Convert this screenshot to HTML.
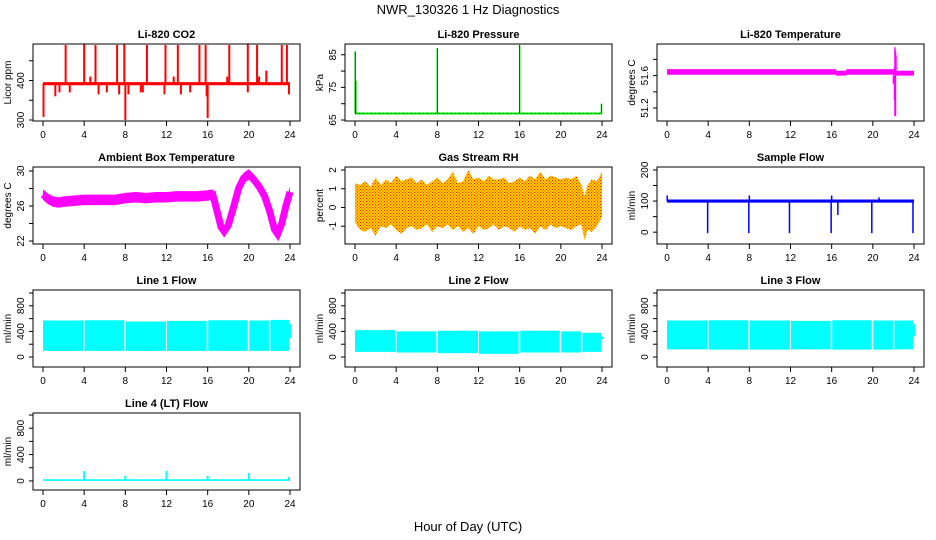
<!DOCTYPE html>
<html><head><meta charset="utf-8"><style>
html,body{margin:0;padding:0;background:#fff;}
svg{display:block;font-family:"Liberation Sans",sans-serif;}
</style></head><body>
<svg id="c" width="936" height="540" viewBox="0 0 936 540" xmlns="http://www.w3.org/2000/svg">
<defs>
<pattern id="rhpat" width="3" height="3" patternUnits="userSpaceOnUse">
<rect width="3" height="3" fill="#ffd000"/><rect x="0" y="0" width="1" height="1" fill="#ff2000"/><rect x="1.5" y="1.5" width="1" height="1" fill="#ff2000"/>
</pattern>
</defs>
<text x="468" y="14" text-anchor="middle" font-size="13">NWR_130326  1 Hz Diagnostics</text>
<text x="468" y="531" text-anchor="middle" font-size="13">Hour of Day (UTC)</text>
</svg>
<script>
// ---- data ----
const xTicks = [0,4,8,12,16,20,24];
// CO2
const co2Base = 392;
const co2SpikeHours = [2.2,4.0,5.1,7.2,7.9,10.1,11.9,13.1,15.2,15.8,18.1,19.9,20.8,23.2,23.7,0.05,8.0,16.0,1.6,2.6,4.6,6.2,7.4,8.3,9.7,11.8,12.7,14.3,15.9,17.9,19.9,21.0,21.7,23.9,1.2,5.4,9.5,13.4];
const co2SpikeVals = [490,492,490,490,492,490,490,490,490,490,490,493,490,490,490,308,300,305,370,370,410,370,365,365,370,365,410,370,360,410,370,410,425,365,360,365,370,365];
// Pressure
const presBase = 67;
const presSpikeHours = [0.02,0.08,8.0,16.0,23.95];
const presSpikeVals = [86,77,87,88,70];
// Li-820 temperature
const tempHours = [0,16.4,16.45,17.4,17.45,21.9,22.3,24];
const tempLow = [51.61,51.61,51.60,51.60,51.61,51.61,51.60,51.60];
const tempHigh = [51.68,51.68,51.66,51.66,51.68,51.68,51.66,51.66];
const tempSpikeHours = [22.0,22.1,22.15,22.2,22.25];
const tempSpikeLo = [51.5,51.3,51.1,51.1,51.6];
const tempSpikeHi = [51.6,51.7,51.95,51.9,51.85];
// Ambient box temperature
const ambHours = [0,0.5,1,1.5,2,3,4,5,6,7,8,9,10,11,12,13,14,15,16,16.5,17,17.3,17.6,18,18.5,19,19.5,20,20.5,21,21.5,22,22.5,22.8,23.2,23.6,24];
const ambCenter = [27.3,26.8,26.5,26.4,26.5,26.6,26.7,26.7,26.7,26.7,26.9,27.0,26.9,27.0,27.0,27.1,27.1,27.1,27.2,27.3,25.0,23.6,23.1,23.8,25.8,28.0,29.2,29.6,29.0,28.2,27.2,25.5,23.3,22.8,24.0,26.0,27.6];
const ambHalf = 0.6;
// Gas stream RH
const rhHours = [0,0.5,1,1.5,2,2.5,3,3.5,4,4.5,5,5.5,6,6.5,7,7.5,8,8.5,9,9.5,10,10.5,11,11.5,12,12.5,13,13.5,14,14.5,15,15.5,16,16.5,17,17.5,18,18.5,19,19.5,20,20.5,21,21.5,22,22.3,22.6,23,23.5,24];
const rhUpper = [1.3,1.2,1.4,1.1,1.6,1.2,1.5,1.3,1.7,1.4,1.5,1.6,1.3,1.5,1.2,1.4,1.6,1.3,1.5,1.9,1.3,1.4,2.0,1.5,1.6,1.4,1.7,1.5,1.5,1.6,1.3,1.4,1.6,1.4,1.7,1.5,1.9,1.5,1.7,1.6,1.5,1.6,1.5,1.7,1.2,0.6,1.2,1.5,1.4,1.9];
const rhLower = [-0.8,-1.2,-1.3,-1.1,-1.5,-1.0,-1.1,-0.9,-1.2,-1.4,-1.1,-1.0,-1.2,-1.1,-0.9,-1.3,-1.0,-1.1,-0.9,-1.2,-1.0,-1.3,-1.1,-1.4,-1.0,-1.2,-1.1,-0.9,-1.2,-1.0,-1.1,-1.3,-1.0,-1.2,-1.1,-1.4,-1.0,-1.2,-0.9,-1.1,-1.0,-1.1,-1.2,-1.0,-0.9,-1.75,-1.2,-1.3,-1.0,-0.5];
// Sample flow
const sfBase = 100;
const sfDropHours = [3.95,7.95,11.9,15.95,19.9,23.9];
const sfDropVals = [-3,-3,-3,-3,-3,-3];
const sfSpikeHours = [0.02,8.0,16.0,16.6,20.6];
const sfSpikeVals = [118,118,118,55,112];
// Line flows (segments)
const flowStarts = [0,4.05,8.05,12.05,16.05,20.05,22.1];
const flowEnds = [3.95,7.9,11.95,15.9,19.9,21.95,23.9];
const l1High = [570,575,555,565,575,570,580];
const l1Low = [95,95,95,95,95,95,95];
const l2High = [420,400,410,400,410,400,380];
const l2Low = [80,70,60,50,70,70,80];
const l3High = [570,575,570,565,575,570,570];
const l3Low = [120,115,115,120,115,115,120];
// Line 4
const l4Base = 12;
const l4SpikeHours = [4.0,8.0,12.0,16.0,20.0,23.9];
const l4SpikeVals = [150,80,150,80,120,60];

// ---- drawing ----
const svg = document.getElementById('c');
const NS = 'http://www.w3.org/2000/svg';
function mk(tag, attrs, parent){const e=document.createElementNS(NS,tag);for(const k in attrs)e.setAttribute(k,attrs[k]);(parent||svg).appendChild(e);return e;}
const rowY=[44,167,290,413];

function makePanel(col,row,title,ylab,ymin,ymax,ticks,labels,name){
  const x0=33+312*col, x1=x0+267, y0=rowY[row], y1=y0+77;
  const g=mk('g',{});
  
  
  const P={x0,x1,y0,y1,g,
    sx:h=>x0+10+h*247/24,
    sy:v=>y1-(v-ymin)/(ymax-ymin)*(y1-y0)};
  const t=mk('text',{x:(x0+x1)/2,y:y0-6,'text-anchor':'middle','font-size':11,'font-weight':'bold'},g);
  t.textContent=title;
  
  
  const yl=mk('text',{x:0,y:0,'text-anchor':'middle','font-size':10,transform:`translate(${x0-22},${(y0+y1)/2}) rotate(-90)`},g);
  yl.textContent=ylab;
  
  
  ticks.forEach(v=>{const y=P.sy(v);mk('line',{x1:x0-4,x2:x0,y1:y,y2:y,stroke:'#000'},g);});
  labels.forEach(v=>{const y=P.sy(v);const l=mk('text',{x:0,y:0,'text-anchor':'middle','font-size':10,transform:`translate(${x0-9},${y}) rotate(-90)`},g);l.textContent=String(v);
    
    });
  xTicks.forEach(h=>{const x=P.sx(h);mk('line',{x1:x,x2:x,y1:y1,y2:y1+5,stroke:'#000'},g);
    const l=mk('text',{x:x,y:y1+17,'text-anchor':'middle','font-size':10},g);l.textContent=String(h);
    
    });
  P.data=mk('g',{},g);
  
  
  P.finish=()=>{mk('rect',{x:x0,y:y0,width:x1-x0,height:y1-y0,fill:'none',stroke:'#000'},g);};
  return P;
}
function vline(P,h,a,b,color,w){const x=P.sx(h);mk('line',{x1:x,x2:x,y1:P.sy(a),y2:P.sy(b),stroke:color,'stroke-width':w||1.5},P.data);}
function band(P,hs,lo,hi,fill){let pts=hs.map((h,i)=>P.sx(h)+','+P.sy(hi[i]));for(let i=hs.length-1;i>=0;i--)pts.push(P.sx(hs[i])+','+P.sy(lo[i]));mk('polygon',{points:pts.join(' '),fill:fill},P.data);}

// CO2
let P=makePanel(0,0,'Li-820 CO2','Licor ppm',297.5,492.5,[300,350,400,450],[300,400],'co2');
band(P,[0,24],[388,388],[396,396],'#ff0000');
co2SpikeHours.forEach((h,i)=>vline(P,h,co2Base,co2SpikeVals[i],'#ff0000',2));
P.finish();
// Pressure
P=makePanel(1,0,'Li-820 Pressure','kPa',64.7,88.3,[65,70,75,80,85],[65,75,85],'pressure');
mk('line',{x1:P.sx(0),x2:P.sx(24),y1:P.sy(presBase),y2:P.sy(presBase),stroke:'#00e000','stroke-width':2},P.data);
mk('line',{x1:P.sx(0),x2:P.sx(24),y1:P.sy(presBase),y2:P.sy(presBase),stroke:'#000','stroke-width':1,'stroke-dasharray':'1 3'},P.data);
presSpikeHours.forEach((h,i)=>{vline(P,h,presBase,presSpikeVals[i],'#00e000',1.5);vline(P,h,presBase,presSpikeVals[i],'#000',0.5);});
P.finish();
// Temperature
P=makePanel(2,0,'Li-820 Temperature','degrees C',51.04,51.99,[51.2,51.4,51.6,51.8],[51.2,51.6],'li820-temp');
band(P,tempHours,tempLow,tempHigh,'#ff00ff');
tempSpikeHours.forEach((h,i)=>vline(P,h,tempSpikeLo[i],tempSpikeHi[i],'#ff00ff',1.5));
P.finish();
// Ambient
P=makePanel(0,1,'Ambient Box Temperature','degrees C',21.66,30.45,[22,24,26,28,30],[22,26,30],'ambient-temp');
band(P,ambHours,ambCenter.map(v=>v-ambHalf),ambCenter.map(v=>v+ambHalf),'#ff00ff');
mk('polyline',{points:ambHours.map((h,i)=>P.sx(h)+','+P.sy(ambCenter[i])).join(' '),fill:'none',stroke:'#ff00ff','stroke-width':7},P.data);
P.finish();
// RH
P=makePanel(1,1,'Gas Stream RH','percent',-1.95,2.16,[-1,0,1,2],[-1,0,1,2],'gas-rh');
band(P,rhHours,rhLower,rhUpper,'url(#rhpat)');
P.finish();
// Sample flow
P=makePanel(2,1,'Sample Flow','ml/min',-38,209.5,[0,50,100,150,200],[0,100,200],'sample-flow');
band(P,[0,24],[95,95],[105,105],'#0000ff');
sfDropHours.forEach((h,i)=>vline(P,h,sfBase,sfDropVals[i],'#0000ff',1.5));
sfSpikeHours.forEach((h,i)=>vline(P,h,sfBase,sfSpikeVals[i],'#0000ff',1.5));
P.finish();
// Line flows
function flowPanel(col,row,title,name,hi,lo){
  const Q=makePanel(col,row,title,'ml/min',-156,1047,[0,200,400,600,800,1000],[0,400,800],name);
  flowStarts.forEach((s,i)=>band(Q,[s,flowEnds[i]],[lo[i],lo[i]],[hi[i],hi[i]],'#00ffff'));
  vline(Q,24,lo[lo.length-1]+200,hi[hi.length-1]-60,'#00ffff',2);
  Q.finish();
}
flowPanel(0,2,'Line 1 Flow','line1-flow',l1High,l1Low);
flowPanel(1,2,'Line 2 Flow','line2-flow',l2High,l2Low);
flowPanel(2,2,'Line 3 Flow','line3-flow',l3High,l3Low);
// Line 4
P=makePanel(0,3,'Line 4 (LT) Flow','ml/min',-138,1031,[0,200,400,600,800,1000],[0,400,800],'line4-flow');
band(P,[0,24],[0,0],[25,25],'#00ffff');
l4SpikeHours.forEach((h,i)=>vline(P,h,l4Base,l4SpikeVals[i],'#00ffff',2));
P.finish();
</script>
</body></html>
